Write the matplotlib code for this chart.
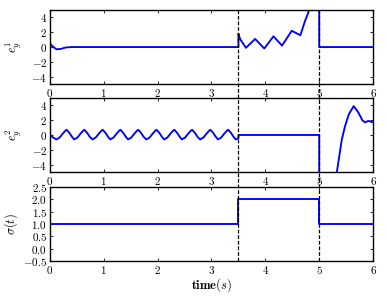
import matplotlib
matplotlib.use("Agg")
import matplotlib.pyplot as plt
from matplotlib.ticker import FuncFormatter
from matplotlib.lines import Line2D
from matplotlib.transforms import blended_transform_factory

plt.rcParams['mathtext.fontset'] = 'cm'
plt.rcParams['font.family'] = 'DejaVu Serif'

# ---- data ----
switch_times = [3.5, 5.0]

t_e1 = [0.0, 0.05, 0.12, 0.2, 0.3, 0.4, 3.5, 3.5, 3.53, 3.64, 3.81, 3.98, 4.15, 4.31,
        4.49, 4.65, 4.74, 4.80, 4.86, 5.0, 5.0, 6.0]
e1 = [0.5, 0.1, -0.3, -0.25, -0.05, 0.0, 0.0, 1.8, 1.1, -0.1, 1.1, -0.2, 1.45, 0.2,
      2.2, 1.6, 3.6, 4.7, 6.5, 9.0, 0.0, 0.0]

t_e2 = [0.0, 0.05, 0.12,
        0.18, 0.24, 0.29, 0.31, 0.36, 0.41, 0.45,
        0.51, 0.57, 0.62, 0.64, 0.69, 0.74, 0.79,
        0.85, 0.91, 0.96, 0.98, 1.03, 1.08, 1.12,
        1.18, 1.24, 1.29, 1.31, 1.36, 1.41, 1.45,
        1.51, 1.57, 1.62, 1.64, 1.69, 1.74, 1.79,
        1.85, 1.91, 1.96, 1.98, 2.03, 2.08, 2.12,
        2.18, 2.24, 2.29, 2.31, 2.36, 2.41, 2.45,
        2.51, 2.57, 2.62, 2.64, 2.69, 2.74, 2.79,
        2.85, 2.91, 2.96, 2.98, 3.03, 3.08, 3.12,
        3.18, 3.24, 3.29, 3.31, 3.36, 3.41, 3.45,
        3.5, 3.5, 5.0, 5.0, 5.3, 5.33, 5.38, 5.42, 5.48, 5.55, 5.64, 5.73, 5.80,
        5.85, 5.91, 6.0]
e2 = [0.1, -0.3, -0.6,
      -0.35, 0.2, 0.6, 0.7, 0.3, -0.25, -0.6,
      -0.35, 0.2, 0.6, 0.7, 0.3, -0.25, -0.6,
      -0.35, 0.2, 0.6, 0.7, 0.3, -0.25, -0.6,
      -0.35, 0.2, 0.6, 0.7, 0.3, -0.25, -0.6,
      -0.35, 0.2, 0.6, 0.7, 0.3, -0.25, -0.6,
      -0.35, 0.2, 0.6, 0.7, 0.3, -0.25, -0.6,
      -0.35, 0.2, 0.6, 0.7, 0.3, -0.25, -0.6,
      -0.35, 0.2, 0.6, 0.7, 0.3, -0.25, -0.6,
      -0.35, 0.2, 0.6, 0.7, 0.3, -0.25, -0.6,
      -0.35, 0.2, 0.6, 0.7, 0.3, -0.25, -0.6,
      -0.45, 0.0, 0.0, -8.0, -6.0, -4.9, -2.5, -0.6, 1.2, 2.8, 3.9, 3.0, 2.0,
      1.7, 1.9, 1.7]

t_sigma = [0.0, 3.5, 5.0, 6.0]
sigma = [1.0, 2.0, 1.0, 1.0]

x_ticks = [0, 1, 2, 3, 4, 5, 6]
e_ticks = [-4, -2, 0, 2, 4]
s_ticks = [-0.5, 0.0, 0.5, 1.0, 1.5, 2.0, 2.5]

# ---- figure ----
fig = plt.figure(figsize=(3.87, 2.96), dpi=100)
left, width, height = 0.129, 0.835, 0.25
ax1 = fig.add_axes([left, 0.716, width, height])
ax2 = fig.add_axes([left, 0.419, width, height])
ax3 = fig.add_axes([left, 0.118, width, height])

blue = '#0000ff'
lw = 1.35
ax1.plot(t_e1, e1, color=blue, lw=lw)
ax2.plot(t_e2, e2, color=blue, lw=lw)
ax3.plot(t_sigma, sigma, color=blue, lw=lw, drawstyle='steps-post')

fmt_int = FuncFormatter(lambda v, p: r'$%g$' % v)
fmt_s = FuncFormatter(lambda v, p: r'$%.1f$' % v)
fs = 8

for ax in (ax1, ax2, ax3):
    ax.set_xlim(0, 6)
    ax.set_xticks(x_ticks)
    ax.xaxis.set_major_formatter(fmt_int)
    ax.tick_params(direction='in', top=True, right=True, labelsize=fs,
                   length=2, width=0.6, pad=2)
    for sp in ax.spines.values():
        sp.set_linewidth(1.0)

for ax in (ax1, ax2):
    ax.set_ylim(-5, 5)
    ax.set_yticks(e_ticks)
    ax.yaxis.set_major_formatter(fmt_int)

ax3.set_ylim(-0.5, 2.5)
ax3.set_yticks(s_ticks)
ax3.yaxis.set_major_formatter(fmt_s)

ax1.set_ylabel(r'$e_y^1$', fontsize=9, labelpad=5)
ax2.set_ylabel(r'$e_y^2$', fontsize=9, labelpad=5)
ax3.set_ylabel(r'$\sigma(t)$', fontsize=9, labelpad=2)
ax3.set_xlabel(r'$\mathbf{time}(s)$', fontsize=9, labelpad=0)

# dashed switching lines spanning all panels
tr = blended_transform_factory(ax1.transData, fig.transFigure)
for ts in switch_times:
    fig.add_artist(Line2D([ts, ts], [0.118, 0.966], transform=tr,
                          color='black', lw=0.9, ls=(0, (3, 1.5))))

fig.savefig('out.png', dpi=100)
